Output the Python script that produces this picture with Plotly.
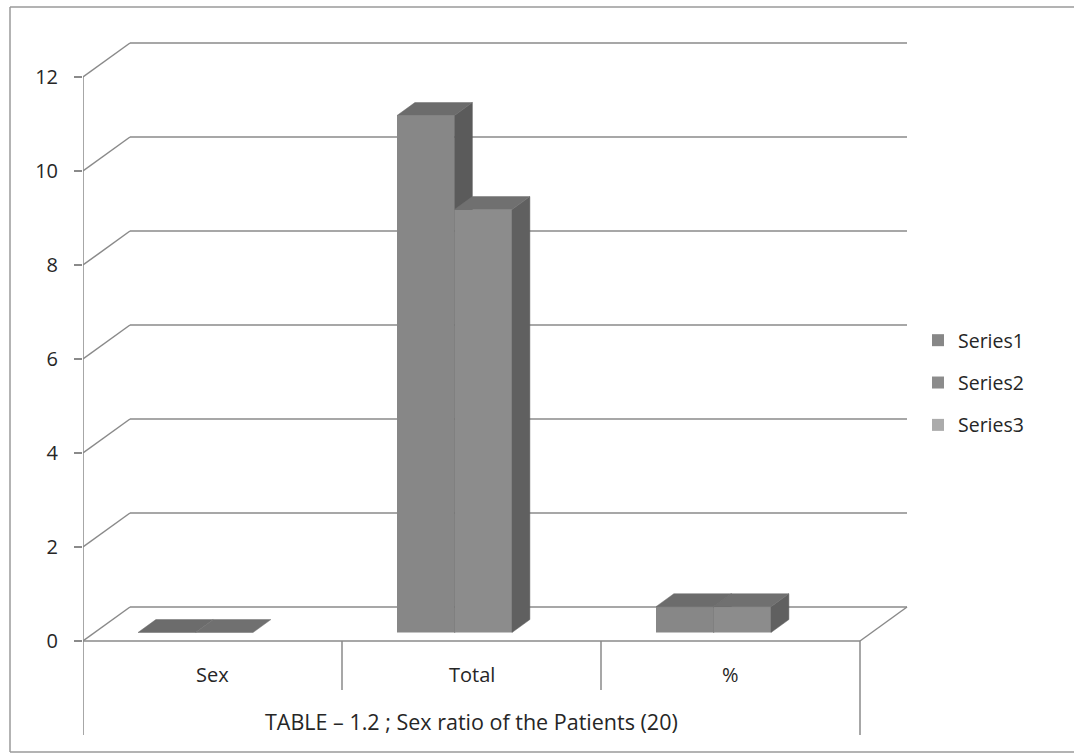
import plotly.graph_objects as go

# ---------------- data ----------------
categories = ["Sex", "Total", "%"]
series_names = ["Series1", "Series2", "Series3"]
series1 = [0, 11, 0.55]
series2 = [0, 9, 0.55]
series3 = [None, None, None]
y_ticks = [0, 2, 4, 6, 8, 10, 12]
axis_title = "TABLE \u2013 1.2 ; Sex ratio of the Patients (20)"

series_values = [series1, series2, series3]

# ---------------- styling ----------------
front_colors = ["#878787", "#8c8c8c", "#ababab"]
side_colors = ["#5b5b5b", "#606060", "#8a8a8a"]
top_colors = ["#6c6c6c", "#707070", "#9a9a9a"]
grid_color = "#8a8a8a"
text_color = "#262626"
FONT = "Open Sans"

FIG_W, FIG_H = 1074, 754
PX_X = 259.0      # pixels per category
PX_Y = 47.0       # pixels per value unit
AX_LEFT = 83
AX_RIGHT = 915
ZERO_Y = 641

# pseudo-3D projection (depth vector in data units)
DX = 47 / PX_X
DY = 34 / PX_Y
F0, F1 = 0.25, 0.63          # front / back depth fraction of the bars
W = 0.222                    # width of one series slot
dX = (F1 - F0) * DX
dY = (F1 - F0) * DY
b0 = F0 * DY
n_cat = len(categories)
n_ser = len(series_names)
x_max = (AX_RIGHT - AX_LEFT) / PX_X
y_max = ZERO_Y / PX_Y
y_min = -(FIG_H - ZERO_Y) / PX_Y

fig = go.Figure()

for k, (name, vals) in enumerate(zip(series_names, series_values)):
    centers = [i + 0.5 + F0 * DX + (k - (n_ser - 1) / 2) * W for i in range(n_cat)]
    fig.add_trace(go.Bar(
        x=centers, y=vals, base=[b0] * n_cat, width=W, name=name,
        marker=dict(color=front_colors[k], line=dict(width=0)),
        legendgroup=name, zorder=k + 1, hoverinfo="skip",
    ))
    sx, sy, tx, ty = [], [], [], []
    for c, v in zip(centers, vals):
        if v is None:
            continue
        xl, xr = c - W / 2, c + W / 2
        top = b0 + v
        if v > 0:
            sx += [xr, xr, xr + dX, xr + dX, xr, None]
            sy += [b0, top, top + dY, b0 + dY, b0, None]
        tx += [xl, xr, xr + dX, xl + dX, xl, None]
        ty += [top, top, top + dY, top + dY, top, None]
    if sx:
        fig.add_trace(go.Scatter(
            x=sx, y=sy, mode="lines", fill="toself", fillcolor=side_colors[k],
            line=dict(color=side_colors[k], width=0.5), showlegend=False,
            hoverinfo="skip", legendgroup=name, zorder=k + 1,
        ))
    if tx:
        fig.add_trace(go.Scatter(
            x=tx, y=ty, mode="lines", fill="toself", fillcolor=top_colors[k],
            line=dict(color=top_colors[k], width=0.5), showlegend=False,
            hoverinfo="skip", legendgroup=name, zorder=k + 1,
        ))

# ---------------- walls, floor and frame ----------------
shapes = []
def seg(x0, y0, x1, y1):
    return dict(type="line", x0=x0, y0=y0, x1=x1, y1=y1, layer="below",
                line=dict(color=grid_color, width=1.5))

for t in y_ticks:
    shapes.append(seg(0, t, DX, t + DY))
    shapes.append(seg(DX, t + DY, n_cat + DX, t + DY))
# floor
shapes.append(seg(0, 0, n_cat, 0))
shapes.append(seg(n_cat, 0, n_cat + DX, DY))
# front vertical axis and category dividers
shapes.append(seg(0, max(y_ticks), 0, -2.0))
shapes.append(seg(n_cat, 0, n_cat, -2.0))
for i in range(1, n_cat):
    shapes.append(seg(i, 0, i, -1.04))

# chart border: left, top and bottom edges (right edge lies outside the page)
plot_w = AX_RIGHT - AX_LEFT
bx0, bx1 = (10 - AX_LEFT) / plot_w, (FIG_W - AX_LEFT) / plot_w
by0, by1 = 1 - 752 / FIG_H, 1 - 7 / FIG_H
for (a, b, c, d) in [(bx0, by0, bx0, by1), (bx0, by1, bx1, by1), (bx0, by0, bx1, by0)]:
    shapes.append(dict(type="line", xref="paper", yref="paper", x0=a, y0=b, x1=c, y1=d,
                       layer="below", line=dict(color="#9a9a9a", width=1.5)))

annotations = []
for i, c in enumerate(categories):
    annotations.append(dict(x=i + 0.5, y=-0.72, text=c, showarrow=False,
                            font=dict(family=FONT, size=20, color=text_color)))
annotations.append(dict(x=n_cat / 2, y=-1.72, text=axis_title, showarrow=False,
                        font=dict(family=FONT, size=21.5, color=text_color)))

fig.update_layout(
    width=FIG_W, height=FIG_H,
    margin=dict(l=AX_LEFT, r=FIG_W - AX_RIGHT, t=0, b=0),
    paper_bgcolor="white", plot_bgcolor="white",
    barmode="overlay",
    showlegend=True,
    legend=dict(xref="container", yref="container",
                x=918 / FIG_W, y=1 - 383 / FIG_H,
                xanchor="left", yanchor="middle", tracegroupgap=14,
                font=dict(family=FONT, size=19.5, color=text_color),
                bgcolor="rgba(0,0,0,0)"),
    xaxis=dict(range=[0, x_max], visible=False, fixedrange=True),
    yaxis=dict(range=[y_min, y_max], tickvals=y_ticks, ticks="outside",
               ticklen=8, tickcolor=grid_color, tickwidth=1.5,
               showgrid=False, zeroline=False, showline=False,
               ticklabelstandoff=12, fixedrange=True,
               tickfont=dict(family=FONT, size=20, color=text_color)),
    shapes=shapes, annotations=annotations,
)

fig.write_html("out.html",
               config={"displayModeBar": False, "staticPlot": True},
               post_script="document.body.style.margin='0';document.body.style.overflow='hidden';")
